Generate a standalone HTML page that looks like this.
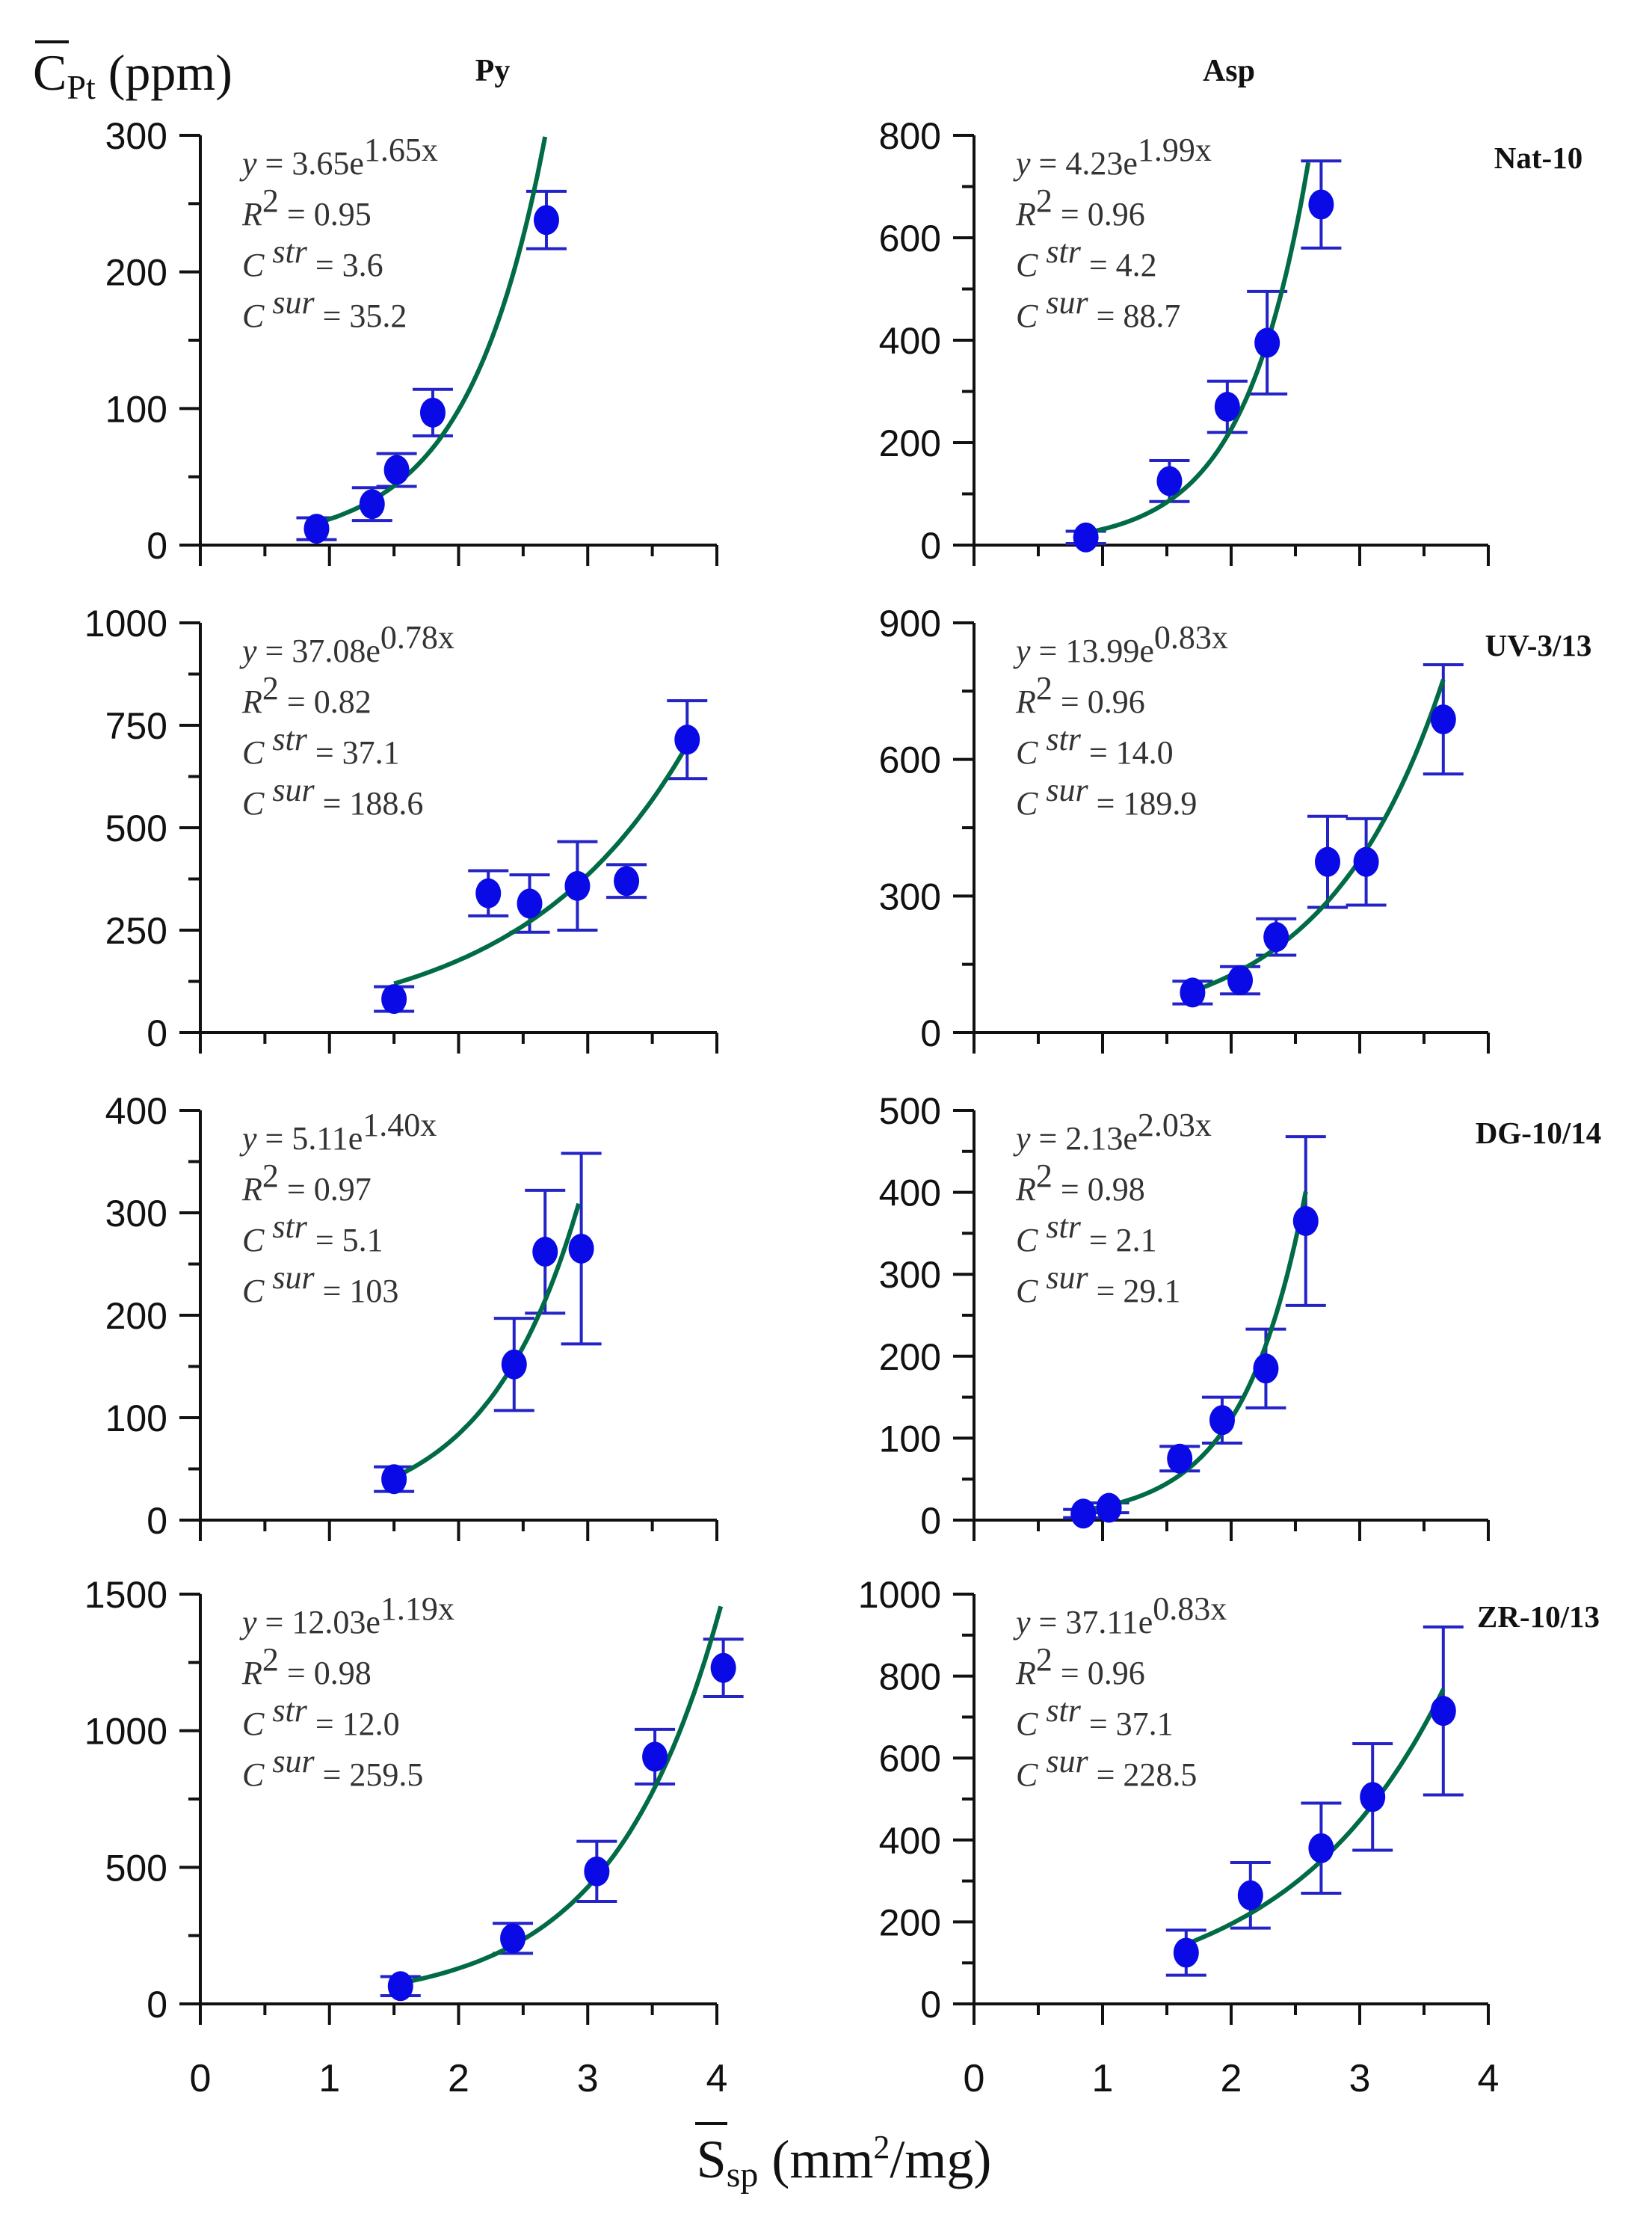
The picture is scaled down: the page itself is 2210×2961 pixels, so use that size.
<!DOCTYPE html>
<html><head><meta charset="utf-8"><style>
html,body{margin:0;padding:0;background:#fff;}
svg{display:block;}
</style></head><body>
<svg id="fig" width="2210" height="2961" viewBox="0 0 2210 2961" xmlns="http://www.w3.org/2000/svg">
<text x="44" y="120" font-family="Liberation Serif, serif" font-size="68" fill="#111">C<tspan font-size="46" dy="12">Pt</tspan><tspan dy="-12"> (ppm)</tspan></text>
<line x1="47" y1="56" x2="92" y2="56" stroke="#111" stroke-width="4"/>
<text x="659" y="108" text-anchor="middle" font-family="Liberation Serif, serif" font-weight="bold" font-size="42" fill="#111">Py</text>
<text x="1644" y="108" text-anchor="middle" font-family="Liberation Serif, serif" font-weight="bold" font-size="42" fill="#111">Asp</text>
<text x="1129" y="2912" text-anchor="middle" font-family="Liberation Serif, serif" font-size="72" fill="#111">S<tspan font-size="48" dy="12">sp</tspan><tspan dy="-12"> (mm</tspan><tspan font-size="44" dy="-26">2</tspan><tspan dy="26">/mg)</tspan></text>
<line x1="930" y1="2840" x2="973" y2="2840" stroke="#111" stroke-width="4"/>
<g id="plots"></g>
</svg>
<script>
// ---- data ----
const panelNames = ["py-nat10","asp-nat10","py-uv","asp-uv","py-dg","asp-dg","py-zr","asp-zr"];
const sampleLabels = ["", "Nat-10", "", "UV-3/13", "", "DG-10/14", "", "ZR-10/13"];
const yMaxes = [300, 800, 1000, 900, 400, 500, 1500, 1000];
const yTickSteps = [100, 200, 250, 300, 100, 100, 500, 200];
const xTickLabels = ["0","1","2","3","4"];
const xs = [
 [0.9,1.33,1.52,1.8,2.68],
 [0.87,1.52,1.97,2.28,2.7],
 [1.5,2.23,2.55,2.92,3.3,3.77],
 [1.7,2.07,2.35,2.75,3.05,3.65],
 [1.5,2.43,2.67,2.95],
 [0.85,1.05,1.6,1.93,2.27,2.58],
 [1.55,2.42,3.07,3.52,4.05],
 [1.65,2.15,2.7,3.1,3.65]
];
const ys = [
 [12,30,55,97,238],
 [15,125,270,395,665],
 [82,340,315,358,370,715],
 [88,115,210,375,375,688],
 [40,152,262,265],
 [8,15,75,122,185,365],
 [65,240,485,905,1230],
 [125,265,380,505,715]
];
const errs = [
 [8,12,12,17,21],
 [12,40,50,100,85],
 [30,55,70,108,40,95],
 [25,30,40,100,95,120],
 [12,45,60,93],
 [5,6,15,28,48,103],
 [35,55,110,100,105],
 [55,80,110,130,205]
];
const fitA = [3.65,4.23,37.08,13.99,5.11,2.13,12.03,37.11];
const fitB = [1.65,1.99,0.78,1.10,1.40,2.03,1.19,0.83];
const fitX0 = [0.9,0.9,1.5,1.7,1.5,0.85,1.55,1.65];
const fitX1 = [2.67,2.6,3.77,3.65,2.93,2.58,4.03,3.65];
const eqTexts = ["3.65e","4.23e","37.08e","13.99e","5.11e","2.13e","12.03e","37.11e"];
const eqExps = ["1.65x","1.99x","0.78x","0.83x","1.40x","2.03x","1.19x","0.83x"];
const r2Texts = ["0.95","0.96","0.82","0.96","0.97","0.98","0.98","0.96"];
const strTexts = ["3.6","4.2","37.1","14.0"," 5.1"," 2.1","12.0","  37.1"];
const surTexts = ["35.2","88.7","188.6","189.9","103","29.1","259.5","228.5"];

const NS="http://www.w3.org/2000/svg";
const colX0=[268,1303], colW=[691,688];
const rowZero=[729,1381,2033,2680], PH=548;
function mk(tag,attrs,parent){const e=document.createElementNS(NS,tag);for(const k in attrs)e.setAttribute(k,attrs[k]);parent.appendChild(e);return e;}
const root=document.getElementById('plots');
for(let p=0;p<8;p++){
  const col=p%2,row=Math.floor(p/2);
  const X0=colX0[col],W=colW[col],Y0=rowZero[row];
  const sx=v=>X0+v/4*W;
  const sy=v=>Y0-v/yMaxes[p]*PH;
  const g=mk('g',{},root);
  
  
  const ax=mk('path',{d:`M${X0},${Y0-PH} L${X0},${Y0} L${X0+W},${Y0}`,fill:'none',stroke:'#111','stroke-width':4},g);
  
  
  const st=yTickSteps[p];
  for(let v=0;v<=yMaxes[p]+1e-9;v+=st/2){
    const major=Math.abs(v/st-Math.round(v/st))<1e-6;
    const t=mk('line',{x1:X0-(major?28:16),x2:X0,y1:sy(v),y2:sy(v),stroke:'#111','stroke-width':4},g);
    
    
    if(major){
      const tl=mk('text',{x:X0-44,y:sy(v)+18,'text-anchor':'end','font-family':'Liberation Sans, sans-serif','font-size':50,fill:'#111'},g);
      tl.textContent=String(v);
      
      
    }
  }
  for(let i=0;i<=8;i++){
    const major=i%2===0;
    const t=mk('line',{x1:sx(i/2),x2:sx(i/2),y1:Y0,y2:Y0+(major?28:15),stroke:'#111','stroke-width':4},g);
    
    
  }
  if(row===3){
    for(let i=0;i<xTickLabels.length;i++){
      const tl=mk('text',{x:sx(i),y:2797,'text-anchor':'middle','font-family':'Liberation Sans, sans-serif','font-size':52,fill:'#111'},g);
      tl.textContent=xTickLabels[i];
      
      
    }
  }
  for(let i=0;i<xs[p].length;i++){
    const cx=sx(xs[p][i]),top=sy(ys[p][i]+errs[p][i]),bot=sy(Math.max(0,ys[p][i]-errs[p][i]));
    const eb=mk('path',{d:`M${cx},${top} L${cx},${bot} M${cx-27},${top} L${cx+27},${top} M${cx-27},${bot} L${cx+27},${bot}`,stroke:'#2323c8','stroke-width':4,fill:'none'},g);
    
    
  }
  let d='';
  const n=60;
  for(let k=0;k<=n;k++){
    const x=fitX0[p]+(fitX1[p]-fitX0[p])*k/n;
    const y=fitA[p]*Math.exp(fitB[p]*x);
    d+=(k?'L':'M')+sx(x).toFixed(1)+','+sy(y).toFixed(1);
  }
  const c=mk('path',{d:d,fill:'none',stroke:'#006b44','stroke-width':6},g);
  
  
  for(let i=0;i<xs[p].length;i++){
    const pt=mk('ellipse',{cx:sx(xs[p][i]),cy:sy(ys[p][i]),rx:17,ry:20,fill:'#0a0ae6'},g);
    
    
  }
  const tx=X0+56,ty=Y0-PH;
  const ann=mk('text',{'font-family':'Liberation Serif, serif','font-size':44,fill:'#333'},g);
  
  
  ann.innerHTML=
   `<tspan x="${tx}" y="${ty+52}"><tspan font-style="italic">y</tspan> = ${eqTexts[p]}<tspan dy="-18">${eqExps[p]}</tspan></tspan>`+
   `<tspan x="${tx}" y="${ty+120}"><tspan font-style="italic">R</tspan><tspan dy="-18">2</tspan><tspan dy="18"> = ${r2Texts[p]}</tspan></tspan>`+
   `<tspan x="${tx}" y="${ty+188}"><tspan font-style="italic">C</tspan><tspan font-style="italic" dy="-18"> str</tspan><tspan dy="18"> = ${strTexts[p]}</tspan></tspan>`+
   `<tspan x="${tx}" y="${ty+256}"><tspan font-style="italic">C</tspan><tspan font-style="italic" dy="-18"> sur</tspan><tspan dy="18"> = ${surTexts[p]}</tspan></tspan>`;
  if(sampleLabels[p]){
    const sl=mk('text',{x:2058,y:ty+44,'text-anchor':'middle','font-family':'Liberation Serif, serif','font-weight':'bold','font-size':41,fill:'#111'},g);
    sl.textContent=sampleLabels[p];
    
    
  }
}
</script>
</body></html>
